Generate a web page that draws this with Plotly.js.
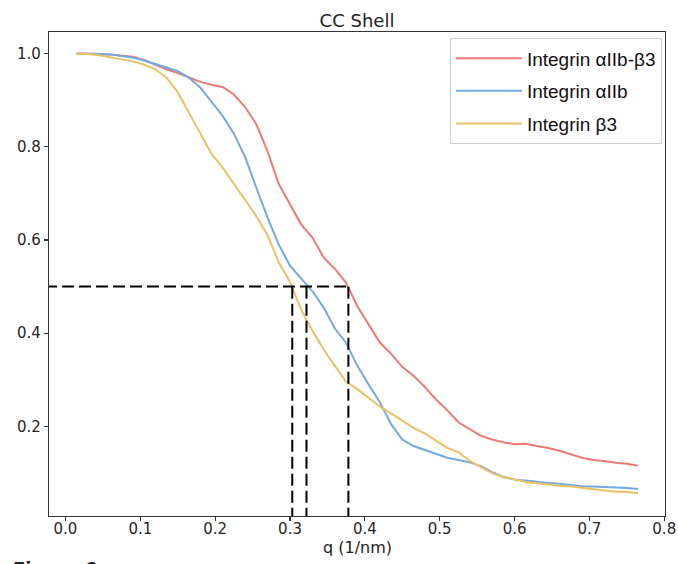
<!DOCTYPE html>
<html>
<head>
<meta charset="utf-8">
<script src="https://cdn.plot.ly/plotly-3.0.1.min.js"></script>
<style>html,body{margin:0;padding:0;background:#fff;}#chart{width:678px;height:564px;}</style>
</head>
<body>
<div id="chart"></div>
<script>
// q grid (1/nm)
const qValues = [0.015,0.03,0.045,0.06,0.075,0.09,0.105,0.12,0.135,0.15,0.165,0.18,0.195,0.21,0.225,0.24,0.255,0.27,0.285,0.30,0.315,0.33,0.345,0.36,0.375,0.39,0.405,0.42,0.435,0.45,0.465,0.48,0.495,0.51,0.525,0.54,0.555,0.57,0.585,0.60,0.615,0.63,0.645,0.66,0.675,0.69,0.705,0.72,0.735,0.75,0.765];

const complexValues = [1.000,1.000,0.999,0.998,0.996,0.993,0.986,0.976,0.966,0.958,0.948,0.939,0.933,0.928,0.912,0.885,0.848,0.790,0.720,0.675,0.633,0.605,0.562,0.538,0.508,0.458,0.418,0.380,0.356,0.328,0.309,0.285,0.258,0.235,0.209,0.195,0.180,0.172,0.166,0.162,0.163,0.158,0.154,0.148,0.140,0.133,0.128,0.126,0.122,0.120,0.116];

const alphaValues = [1.000,1.000,0.999,0.998,0.995,0.991,0.985,0.978,0.970,0.962,0.948,0.927,0.896,0.866,0.828,0.778,0.712,0.648,0.590,0.545,0.517,0.490,0.455,0.410,0.379,0.330,0.290,0.252,0.205,0.172,0.158,0.150,0.142,0.133,0.128,0.123,0.115,0.102,0.092,0.086,0.084,0.081,0.079,0.077,0.074,0.072,0.071,0.070,0.070,0.068,0.066];

const betaValues = [1.000,0.999,0.996,0.992,0.988,0.983,0.976,0.966,0.948,0.917,0.873,0.828,0.785,0.755,0.720,0.686,0.651,0.610,0.552,0.510,0.450,0.405,0.365,0.330,0.296,0.280,0.262,0.243,0.228,0.213,0.197,0.185,0.170,0.154,0.145,0.126,0.113,0.100,0.091,0.087,0.081,0.078,0.076,0.073,0.071,0.068,0.066,0.062,0.060,0.060,0.057];

const seriesNames = ["Integrin αIIb-β3", "Integrin αIIb", "Integrin β3"];
const seriesColors = ["#EC7B73", "#73A9E2", "#EBC164"];

// half-intensity markers
const halfLevel = 0.5;
const halfQ = [0.303, 0.322, 0.378];

const traces = [];
[complexValues, alphaValues, betaValues].forEach((vals, i) => {
  traces.push({
    x: qValues, y: vals, type: 'scatter', mode: 'lines',
    name: seriesNames[i], legendgroup: 'g' + i,
    line: {color: seriesColors[i], width: 2}
  });
});
traces.push({
  x: [-0.05, Math.max(...halfQ)], y: [halfLevel, halfLevel],
  type: 'scatter', mode: 'lines', showlegend: false, hoverinfo: 'skip',
  line: {color: '#000', width: 2, dash: '12px,5px'}
});
halfQ.forEach(q => {
  traces.push({
    x: [q, q], y: [0, halfLevel],
    type: 'scatter', mode: 'lines', showlegend: false, hoverinfo: 'skip',
    line: {color: '#000', width: 2, dash: '12px,5px'}
  });
});

const axisCommon = {
  showgrid: false, zeroline: false, showline: true, mirror: true,
  linecolor: '#333', linewidth: 1.25,
  ticks: 'outside', ticklen: 4, tickwidth: 1.25, tickcolor: '#333',
  tickfont: {family: 'DejaVu Sans', size: 15, color: '#262626'}
};

const layout = {
  width: 678, height: 564,
  margin: {l: 49, r: 13, t: 32, b: 48},
  paper_bgcolor: '#fff', plot_bgcolor: '#fff',
  title: {text: 'CC Shell', font: {family: 'DejaVu Sans', size: 18, color: '#222'},
          x: 0.5, xref: 'paper', y: 0.964, yref: 'container', yanchor: 'middle'},
  xaxis: Object.assign({}, axisCommon, {range: [-0.022, 0.801], ticklabelstandoff: -5,
    tickvals: [0,0.1,0.2,0.3,0.4,0.5,0.6,0.7,0.8], ticktext: ['0.0','0.1','0.2','0.3','0.4','0.5','0.6','0.7','0.8']}),
  yaxis: Object.assign({}, axisCommon, {range: [0.008, 1.046],
    tickvals: [0.2,0.4,0.6,0.8,1.0], ticktext: ['0.2','0.4','0.6','0.8','1.0']}),
  showlegend: true,
  legend: {
    x: 0.995, xanchor: 'right', y: 0.987, yanchor: 'top',
    bordercolor: '#cccccc', borderwidth: 1, bgcolor: '#fff',
    font: {family: 'Liberation Sans', size: 19, color: '#111'},
    traceorder: 'grouped', tracegroupgap: 5, itemwidth: 66
  },
  annotations: [
    {text: 'q (1/nm)', xref: 'paper', yref: 'paper', x: 0.5, y: -0.066, yanchor: 'middle',
     showarrow: false, font: {family: 'DejaVu Sans', size: 16, color: '#222'}},
    {text: '<b>Figure 6</b>', xref: 'paper', yref: 'paper', x: -0.062, xanchor: 'left',
     y: -0.082, yanchor: 'top', showarrow: false,
     font: {family: 'DejaVu Sans', size: 18, color: '#222'}}
  ]
};

Plotly.newPlot('chart', traces, layout, {displayModeBar: false, staticPlot: true});
</script>
</body>
</html>
